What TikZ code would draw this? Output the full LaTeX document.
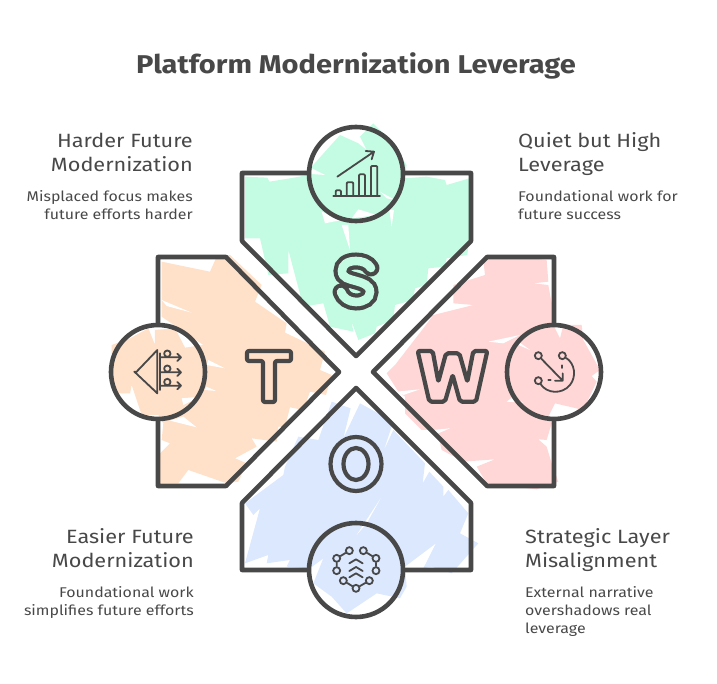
\documentclass[tikz,border=0pt]{standalone}
\usepackage{fontspec}
\setmainfont[FakeStretch=1.13]{Fira Sans}
\definecolor{ink}{HTML}{484848}
\definecolor{mint}{HTML}{C4FCE3}
\definecolor{peach}{HTML}{FFE0C8}
\definecolor{rose}{HTML}{FFD7D7}
\definecolor{sky}{HTML}{DBE8FE}
\tikzset{
  outline/.style={draw=ink,line width=4.6pt,line join=round},
  ring/.style={circle,draw=ink,line width=4.6pt,minimum size=94pt,inner sep=0pt},
  headr/.style={text=ink,font=\fontsize{19.2}{24}\selectfont,align=right,anchor=north east,inner sep=0pt},
  headl/.style={text=ink,font=\fontsize{19.2}{24}\selectfont,align=left,anchor=north west,inner sep=0pt},
  bodyr/.style={text=ink,font=\fontsize{14.1}{18}\selectfont,align=right,anchor=north east,inner sep=0pt},
  bodyl/.style={text=ink,font=\fontsize{14.1}{18}\selectfont,align=left,anchor=north west,inner sep=0pt},
  glyph/.style={draw=ink,line width=4.2pt,line join=round,rounded corners=2pt},
  ic/.style={draw=ink,line width=1.8pt,line cap=round,line join=round},
  dot/.style={circle,draw=ink,line width=1.8pt,minimum size=7pt,inner sep=0pt},
  zoomA/.style={x=0.3333pt,y=-0.3333pt}
}
\newcommand{\washS}{\begin{scope}[shift={(230,110)},zoomA]
\fill[mint] (45,200)--(112,203)--(118,215)--(180,205)--(235,195)--(245,170)--(330,75)--(385,100)--(410,120)--(390,80)--(430,40)--(475,85)--(530,165)--(525,205)--(590,200)--(645,210)--(650,225)--(718,205)--(718,385)--(712,435)--(650,445)--(645,470)--(595,475)--(590,525)--(555,535)--(550,570)--(495,585)--(490,630)--(440,650)--(435,670)--(385,690)--(365,635)--(370,665)--(300,650)--(280,580)--(220,590)--(175,420)--(175,490)--(115,495)--(90,385)--(45,385)--cycle;
\fill[white] (245,175)--(285,195)--(245,192)--cycle (275,305)--(285,340)--(335,330)--cycle (335,345)--(360,420)--(355,345)--cycle (365,325)--(385,298)--(440,315)--cycle (478,300)--(485,350)--(492,300)--cycle (450,245)--(495,270)--(470,265)--cycle;
\end{scope}}
\newcommand{\washT}{\begin{scope}[shift={(100,250)},zoomA]
\fill[peach] (185,35)--(330,65)--(350,20)--(390,15)--(485,105)--(465,155)--(560,220)--(555,248)--(675,305)--(660,360)--(695,375)--(678,435)--(630,425)--(610,480)--(570,472)--(555,530)--(535,530)--(530,575)--(455,565)--(470,590)--(405,625)--(440,640)--(415,695)--(380,700)--(265,660)--(235,700)--(180,700)--(180,610)--(210,580)--(185,570)--(190,520)--(175,495)--(125,495)--(95,405)--(90,430)--(50,430)--(35,410)--(35,285)--(90,265)--(145,235)--(165,285)--(165,240)--(225,235)--(255,293)--(310,285)--(185,200)--cycle;
\fill[white] (200,168)--(275,188)--(185,150)--cycle (325,330)--(375,355)--(320,345)--cycle (320,410)--(348,423)--(315,420)--cycle (245,445)--(250,465)--(300,440)--cycle (250,500)--(290,532)--(210,512)--cycle;
\end{scope}}
\newcommand{\washW}{\begin{scope}[shift={(370,250)},zoomA]
\fill[rose] (350,20)--(385,15)--(530,30)--(535,95)--(490,100)--(535,105)--(545,160)--(545,215)--(570,265)--(580,225)--(635,225)--(640,270)--(690,360)--(665,378)--(680,395)--(640,480)--(555,460)--(535,500)--(545,520)--(530,570)--(505,568)--(530,590)--(545,640)--(565,695)--(500,718)--(350,700)--(320,650)--(375,628)--(280,635)--(215,600)--(200,540)--(155,540)--(105,490)--(105,440)--(85,425)--(50,370)--(75,345)--(160,235)--(190,195)--(310,165)--(250,160)--(250,105)--(345,75)--(340,30)--cycle;
\fill[white] (355,275)--(450,255)--(400,280)--cycle (80,425)--(150,418)--(100,435)--cycle (190,540)--(240,535)--(205,550)--cycle (445,275)--(480,300)--(445,285)--cycle (410,455)--(460,458)--(430,440)--cycle;
\end{scope}}
\newcommand{\washO}{\begin{scope}[shift={(230,380)},zoomA]
\fill[sky] (305,65)--(362,85)--(340,175)--(390,70)--(490,125)--(460,215)--(490,150)--(585,250)--(578,310)--(598,275)--(640,320)--(640,350)--(655,330)--(715,400)--(690,460)--(745,490)--(665,580)--(605,560)--(580,565)--(618,490)--(525,560)--(530,620)--(510,655)--(440,640)--(350,700)--(305,650)--(250,610)--(280,535)--(240,565)--(170,560)--(180,540)--(110,550)--(115,525)--(45,550)--(90,385)--(70,405)--(45,370)--(160,285)--(165,260)--(205,170)--(265,180)--cycle;
\fill[white] (380,465)--(452,355)--(410,430)--cycle;
\end{scope}}
\begin{document}
\begin{tikzpicture}[x=1pt,y=-1pt]
\useasboundingbox (0,0) rectangle (717,684);
\node[text=ink,font=\fontsize{25.7}{28}\selectfont\bfseries] (title) at (356,66) {Platform Modernization Leverage};
\washS \washT \washW \washO
% polygons
\draw[outline] (242,173)--(471,173)--(471,241)--(356,356)--(242,241)--cycle;
\draw[outline] (158,257)--(226,257)--(339,372)--(226,486)--(158,486)--cycle;
\draw[outline] (554,257)--(487,257)--(373,372)--(487,486)--(554,486)--cycle;
\draw[outline] (356,388)--(471,503)--(471,570)--(242,570)--(242,503)--cycle;
% ring interiors
\begin{scope}\clip (356,174) circle [radius=47pt]; \fill[white] (300,120) rectangle (410,230); \washS\end{scope}
\begin{scope}\clip (158,372) circle [radius=47pt]; \fill[white] (100,320) rectangle (210,430); \washT\end{scope}
\begin{scope}\clip (554,372) circle [radius=47pt]; \fill[white] (500,320) rectangle (610,430); \washW\end{scope}
\begin{scope}\clip (356,570) circle [radius=47pt]; \fill[white] (300,515) rectangle (410,625); \washO\end{scope}
% rings
\node[ring] (rs) at (356,174) {};
\node[ring] (rt) at (158,372) {};
\node[ring] (rw) at (554,372) {};
\node[ring] (ro) at (356,570) {};
% letters
\draw[draw=ink,double=mint,double distance=8.6pt,line cap=round,line width=4.2pt]
 (371,268) .. controls (368,263) and (362,261) .. (356,261) .. controls (347,261) and (342,265) .. (342,271) .. controls (342,278) and (349,279) .. (356,281) .. controls (363,283) and (370,285) .. (370,292) .. controls (370,298) and (364,302) .. (356,302) .. controls (349,302) and (343,298) .. (341,292);
\draw[glyph] (247,351)--(291,351)--(291,361)--(275,361)--(275,402)--(263,402)--(263,361)--(247,361)--cycle;
\begin{scope}[shift={(370,250)},zoomA]
\draw[glyph] (143,303)--(188,303)--(205,395)--(228,310)--(268,310)--(292,395)--(310,303)--(352,303)--(318,455)--(270,455)--(248,375)--(225,455)--(178,455)--cycle;
\end{scope}
\draw[glyph] (356,464) ellipse [x radius=25.5pt,y radius=27pt];
\draw[glyph] (356,464) ellipse [x radius=12.5pt,y radius=16pt];
% S icon
\begin{scope}[shift={(320,140)},zoomA]
\draw[ic] (52,110)--(162,35) (137,33)--(162,35)--(155,58);
\draw[ic] (40,167)--(180,167);
\draw[ic,rounded corners=1pt] (47,167)--(47,151)--(63,151)--(63,167) (80,167)--(80,127)--(100,127)--(100,167) (117,167)--(117,103)--(135,103)--(135,167) (153,167)--(153,78)--(172,78)--(172,167);
\end{scope}
% T icon
\begin{scope}[shift={(125,340)},zoomA]
\draw[ic] (28,95)--(35,95)--(97,30)--(97,160)--cycle (105,40)--(105,150);
\foreach \y in {52,97,137}{
 \draw[ic] (105,\y)--(168,\y) (157,\y-11)--(168,\y)--(157,\y+11);
 \draw[ic] (127,\y-11) circle [radius=3.2pt];
}
\end{scope}
% W icon
\begin{scope}[shift={(520,340)},zoomA]
\node[dot] (wa) at (55,47) {};
\node[dot] (wb) at (127,47) {};
\node[dot] (wc) at (55,122) {};
\coordinate (wd) at (128,122);
\draw[ic] (wa)--(wd) (105,122)--(wd)--(128,100);
\draw[ic] (85,120)--(92,120) (127,76)--(127,84);
\draw[ic] (wb) .. controls (165,70) and (170,110) .. (150,135) .. controls (125,165) and (80,160) .. (wc);
\end{scope}
% O icon
\begin{scope}[shift={(320,535)},zoomA]
\node[dot] (o1) at (88,47) {};
\node[dot] (o2) at (130,47) {};
\node[dot] (o3) at (50,70) {};
\node[dot] (o4) at (168,70) {};
\node[dot] (o5) at (50,107) {};
\node[dot] (o6) at (168,107) {};
\node[dot] (o7) at (70,137) {};
\node[dot] (o8) at (148,137) {};
\node[dot] (o9) at (108,160) {};
\draw[ic] (o3)--(o1) (o2)--(o4) (o3)--(o5) (o4)--(o6) (o7)--(o9)--(o8);
\draw[ic] (88,85)--(108,73)--(128,85) (88,108)--(108,96)--(128,108) (88,127)--(108,115)--(128,127);
\end{scope}
% labels
\node[headr] (t1) at (193,132.5) {Harder Future\\Modernization};
\node[bodyr] (b1) at (193,190.5) {Misplaced focus makes\\future efforts harder};
\node[headl] (t2) at (518,132.5) {Quiet but High\\Leverage};
\node[bodyl] (b2) at (518,190.5) {Foundational work for\\future success};
\node[headr] (t3) at (194,528.5) {Easier Future\\Modernization};
\node[bodyr] (b3) at (194,586.5) {Foundational work\\simplifies future efforts};
\node[headl] (t4) at (525,528.5) {Strategic Layer\\Misalignment};
\node[bodyl] (b4) at (525,586.5) {External narrative\\overshadows real\\leverage};
\end{tikzpicture}
\end{document}
